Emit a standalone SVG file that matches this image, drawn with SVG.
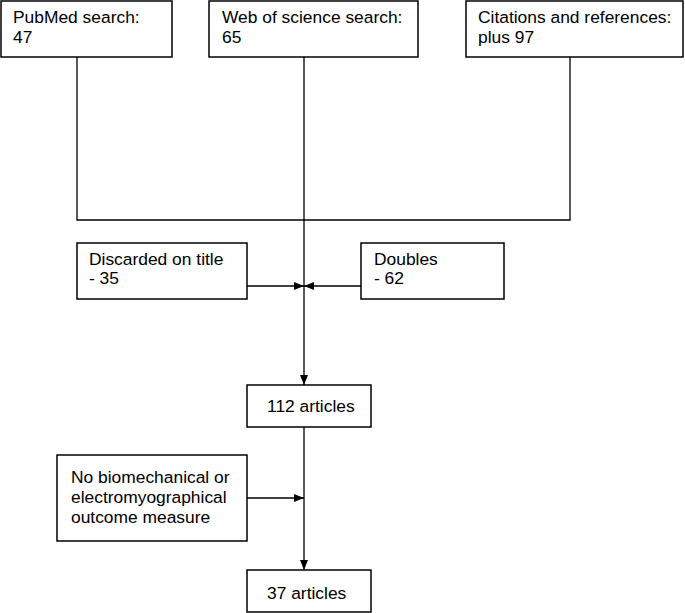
<svg xmlns="http://www.w3.org/2000/svg" width="685" height="613" viewBox="0 0 685 613">
<defs>
<style>
.box{fill:#fff;stroke:#000;stroke-width:1.5}
.t{font-family:"Liberation Sans",Arial,sans-serif;font-size:17.4px;fill:#000}
.ln{fill:none;stroke:#000;stroke-width:1.3}
</style>
<marker id="ah" viewBox="0 0 10 8" refX="10" refY="4" markerWidth="10" markerHeight="8" markerUnits="userSpaceOnUse" orient="auto">
<path d="M0,0 L10,4 L0,8 Z" fill="#000"/>
</marker>
</defs>
<rect width="685" height="613" fill="#fff"/>
<g id="connectors">
<path class="ln" d="M77,57 V220 H570 V57"/>
<path class="ln" d="M304,57 V220"/>
<path class="ln" d="M304,220 V385" marker-end="url(#ah)"/>
<path class="ln" d="M247,286 H304" marker-end="url(#ah)"/>
<path class="ln" d="M361,286 H304" marker-end="url(#ah)"/>
<path class="ln" d="M304,427 V570" marker-end="url(#ah)"/>
<path class="ln" d="M247,498 H304" marker-end="url(#ah)"/>
</g>
<g id="pubmed">
<rect class="box" x="1" y="1" width="171" height="56"/>
<text class="t" x="13" y="23">PubMed search:</text>
<text class="t" x="13" y="43">47</text>
</g>
<g id="wos">
<rect class="box" x="209" y="1" width="209" height="56"/>
<text class="t" x="222" y="23">Web of science search:</text>
<text class="t" x="222" y="43">65</text>
</g>
<g id="citations">
<rect class="box" x="466" y="1" width="217" height="56"/>
<text class="t" x="478" y="23">Citations and references:</text>
<text class="t" x="478" y="43">plus 97</text>
</g>
<g id="discarded">
<rect class="box" x="77" y="243" width="170" height="56"/>
<text class="t" x="89" y="265">Discarded on title</text>
<text class="t" x="89" y="284">- 35</text>
</g>
<g id="doubles">
<rect class="box" x="361" y="243" width="143" height="56"/>
<text class="t" x="374" y="265">Doubles</text>
<text class="t" x="374" y="284">- 62</text>
</g>
<g id="n112">
<rect class="box" x="247" y="385" width="124" height="42"/>
<text class="t" x="267" y="412">112 articles</text>
</g>
<g id="nobio">
<rect class="box" x="57" y="455" width="190" height="86"/>
<text class="t" x="71" y="483">No biomechanical or</text>
<text class="t" x="71" y="503">electromyographical</text>
<text class="t" x="71" y="523">outcome measure</text>
</g>
<g id="n37">
<rect class="box" x="247" y="570" width="124" height="42"/>
<text class="t" x="267" y="599">37 articles</text>
</g>
</svg>
